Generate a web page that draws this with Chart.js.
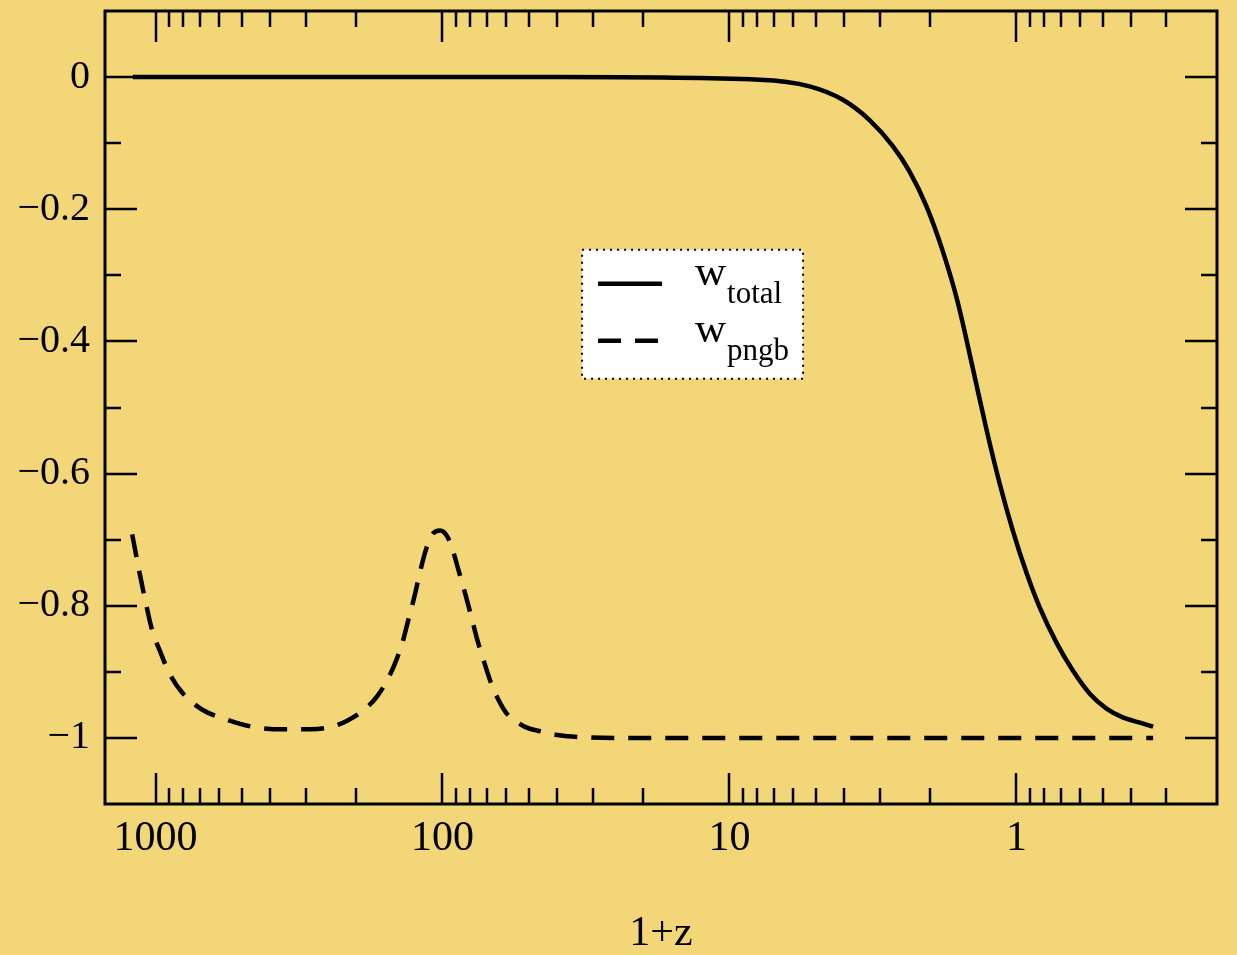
<!DOCTYPE html>
<html>
<head>
<meta charset="utf-8">
<script src="https://cdn.jsdelivr.net/npm/chart.js@4.4.1/dist/chart.umd.min.js"></script>
<style>
  html, body { margin: 0; padding: 0; background: #f3d677; }
  #wrap { width: 1237px; height: 955px; }
</style>
</head>
<body>
<div id="wrap"><canvas id="c" width="1237" height="955"></canvas></div>
<script>
// 1+z values and equation of state
const totalX = [1200, 40, 7.86, 5.26, 4.04, 3.25, 2.70, 2.356, 2.056, 1.807, 1.603, 1.420, 1.269, 1.144, 1.030, 0.921, 0.829, 0.723, 0.636, 0.555, 0.484, 0.426, 0.371, 0.334];
const totalW = [0, 0, -0.004, -0.014, -0.034, -0.065, -0.104, -0.143, -0.196, -0.263, -0.340, -0.440, -0.535, -0.615, -0.686, -0.751, -0.803, -0.857, -0.898, -0.933, -0.956, -0.969, -0.977, -0.983];

const pngbX = [1206, 1143, 1082, 1029, 960, 898, 809, 689, 568, 461, 362, 288, 242.5, 215, 186, 169, 156, 146, 138, 132, 125.6, 119.6, 114, 108.6, 101.9, 96.3, 91.8, 87.7, 83.3, 79.4, 75.7, 71.5, 67.6, 63.9, 60, 55.3, 51.1, 45.6, 39.2, 32, 24.2, 10, 1, 0.334];
const pngbW = [-0.692, -0.745, -0.795, -0.836, -0.871, -0.901, -0.931, -0.957, -0.972, -0.983, -0.987, -0.987, -0.983, -0.974, -0.956, -0.937, -0.913, -0.886, -0.856, -0.824, -0.788, -0.748, -0.714, -0.692, -0.686, -0.695, -0.718, -0.748, -0.782, -0.816, -0.851, -0.886, -0.918, -0.942, -0.962, -0.975, -0.984, -0.990, -0.996, -0.999, -1, -1, -1, -1];

const xMajorTicks = [1000, 100, 10, 1];
const yMajorTicks = [0, -0.2, -0.4, -0.6, -0.8, -1];
const yMinorTicks = [-0.1, -0.3, -0.5, -0.7, -0.9];
const seriesNames = ["total", "pngb"];

const SERIF = "'Liberation Serif', 'Times New Roman', serif";

// minor log ticks 2..9 in each decade
const xMinorTicks = [];
[100, 10, 1, 0.1].forEach((d) => {
  for (let k = 2; k <= 9; k++) xMinorTicks.push(k * d);
});

const frame = {
  id: "frame",
  afterDatasetsDraw(chart) {
    const { ctx, chartArea: a, scales: { x, y } } = chart;
    ctx.save();
    ctx.strokeStyle = "#000";
    ctx.lineWidth = 2.5;
    ctx.beginPath();
    xMajorTicks.concat(xMinorTicks).forEach((v) => {
      const px = Math.round(x.getPixelForValue(v));
      if (px <= a.left + 2 || px >= a.right - 2) return;
      const len = xMajorTicks.includes(v) ? 31 : 16;
      ctx.moveTo(px, a.bottom); ctx.lineTo(px, a.bottom - len);
      ctx.moveTo(px, a.top); ctx.lineTo(px, a.top + len);
    });
    yMajorTicks.concat(yMinorTicks).forEach((v) => {
      const py = Math.round(y.getPixelForValue(v));
      const len = yMajorTicks.includes(v) ? 32 : 16;
      ctx.moveTo(a.left, py); ctx.lineTo(a.left + len, py);
      ctx.moveTo(a.right, py); ctx.lineTo(a.right - len, py);
    });
    ctx.stroke();
    ctx.lineWidth = 3;
    ctx.strokeRect(a.left, a.top, a.right - a.left, a.bottom - a.top);
    ctx.restore();
  },
  afterDraw(chart) {
    const { ctx, chartArea: a } = chart;
    const w = a.right - a.left, h = a.bottom - a.top;
    const bx = a.left + w * 0.429, by = a.top + h * 0.301;
    const bw = 221, bh = 129;
    ctx.save();
    ctx.fillStyle = "#fff";
    ctx.fillRect(bx, by, bw, bh);
    ctx.strokeStyle = "#000";
    ctx.lineWidth = 2;
    ctx.setLineDash([2, 5]);
    ctx.strokeRect(bx, by, bw, bh);
    chart.data.datasets.forEach((ds, i) => {
      const ly = by + 34 + i * 57;
      ctx.setLineDash(ds.borderDash || []);
      ctx.lineWidth = ds.borderWidth;
      ctx.beginPath();
      ctx.moveTo(bx + 16, ly);
      ctx.lineTo(bx + 80, ly);
      ctx.stroke();
      ctx.fillStyle = "#000";
      ctx.textBaseline = "alphabetic";
      ctx.font = "43px " + SERIF;
      ctx.fillText("w", bx + 113, ly + 1);
      ctx.font = "31px " + SERIF;
      ctx.fillText(seriesNames[i], bx + 145, ly + 19);
    });
    ctx.restore();
  },
};

new Chart(document.getElementById("c"), {
  type: "line",
  data: {
    datasets: [
      {
        label: "w_total",
        data: totalX.map((v, i) => ({ x: v, y: totalW[i] })),
        borderColor: "#000",
        borderWidth: 4.5,
        pointRadius: 0,
        cubicInterpolationMode: "monotone",
        fill: false,
      },
      {
        label: "w_pngb",
        data: pngbX.map((v, i) => ({ x: v, y: pngbW[i] })),
        borderColor: "#000",
        borderWidth: 4.5,
        borderDash: [23, 14],
        pointRadius: 0,
        cubicInterpolationMode: "monotone",
        fill: false,
      },
    ],
  },
  options: {
    responsive: false,
    animation: false,
    layout: { padding: { top: 11, right: 20, left: 0, bottom: 0 } },
    plugins: { legend: { display: false }, tooltip: { enabled: false } },
    scales: {
      x: {
        type: "logarithmic",
        reverse: true,
        min: 0.2,
        max: 1500,
        afterBuildTicks: (s) => { s.ticks = xMajorTicks.map((v) => ({ value: v })); },
        afterFit: (s) => { s.height = 151; s.paddingLeft = 0; s.paddingRight = 0; },
        grid: { display: false, drawTicks: false },
        border: { display: false },
        ticks: {
          autoSkip: false,
          maxRotation: 0,
          padding: 10,
          color: "#000",
          font: { family: SERIF, size: 42 },
          callback: (v) => String(v),
        },
        title: {
          display: true,
          text: "1+z",
          color: "#000",
          font: { family: SERIF, size: 42 },
          padding: { top: 0, bottom: -4 },
        },
      },
      y: {
        min: -1.1,
        max: 0.1,
        afterBuildTicks: (s) => { s.ticks = yMajorTicks.map((v) => ({ value: v })); },
        afterFit: (s) => { s.width = 105; s.paddingTop = 0; s.paddingBottom = 0; },
        grid: { display: false, drawTicks: false },
        border: { display: false },
        ticks: {
          padding: 15,
          color: "#000",
          font: { family: SERIF, size: 40 },
          callback: (v) => (v === 0 ? "0" : "\u2212" + Math.abs(v)),
        },
      },
    },
  },
  plugins: [frame],
});
</script>
</body>
</html>
